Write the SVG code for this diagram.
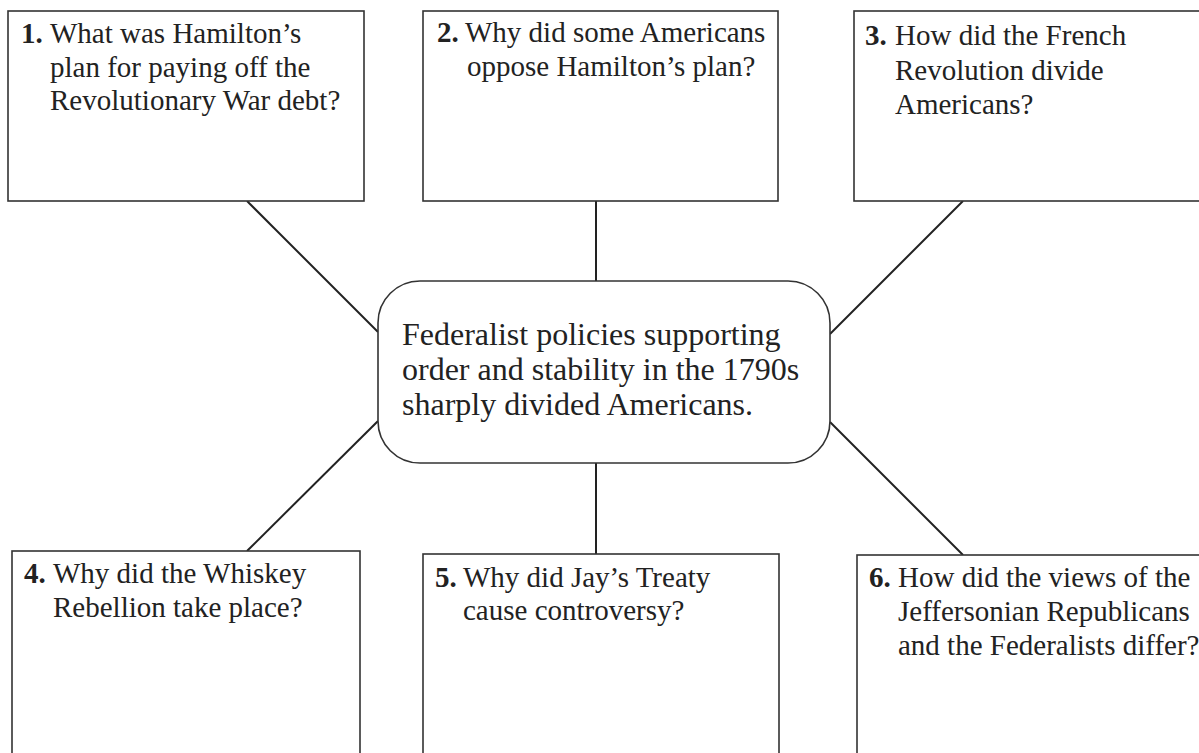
<svg xmlns="http://www.w3.org/2000/svg" width="1199" height="753" viewBox="0 0 1199 753">
<style>
.box{fill:#fff;stroke:#333;stroke-width:1.6}
.hub{fill:#fff;stroke:#333;stroke-width:1.6}
.conn line{stroke:#222;stroke-width:2}
text{font-family:"Liberation Serif","Times New Roman",serif;fill:#222}
.q{font-size:29px}
.n{font-weight:bold}
.c{font-size:32px}
</style>
<rect width="1199" height="753" fill="#fff"/>
<g id="connectors" class="conn">
<line x1="247" y1="201" x2="378" y2="332"/>
<line x1="596" y1="201" x2="596" y2="281"/>
<line x1="963" y1="201" x2="830" y2="334"/>
<line x1="378" y1="421" x2="247" y2="551"/>
<line x1="596" y1="463" x2="596" y2="554"/>
<line x1="830" y1="422" x2="963" y2="555"/>
</g>
<g id="center">
<rect class="hub" x="378" y="281" width="452" height="182" rx="42" ry="42"/>
<text class="c"><tspan x="402" y="345">Federalist policies supporting</tspan><tspan x="402" y="380">order and stability in the 1790s</tspan><tspan x="402" y="415">sharply divided Americans.</tspan></text>
</g>
<g id="q1">
<rect class="box" x="8" y="11" width="356" height="190"/>
<text class="q"><tspan class="n" x="21" y="43">1.</tspan><tspan x="50" y="43">What was Hamilton’s</tspan><tspan x="50" y="77">plan for paying off the</tspan><tspan x="50" y="110">Revolutionary War debt?</tspan></text>
</g>
<g id="q2">
<rect class="box" x="423" y="11" width="355" height="190"/>
<text class="q"><tspan class="n" x="437" y="42">2.</tspan><tspan x="465" y="42">Why did some Americans</tspan><tspan x="467" y="76">oppose Hamilton’s plan?</tspan></text>
</g>
<g id="q3">
<rect class="box" x="854" y="11" width="360" height="190"/>
<text class="q"><tspan class="n" x="865" y="45">3.</tspan><tspan x="895" y="45">How did the French</tspan><tspan x="895" y="80">Revolution divide</tspan><tspan x="895" y="114">Americans?</tspan></text>
</g>
<g id="q4">
<rect class="box" x="12" y="551" width="348" height="230"/>
<text class="q"><tspan class="n" x="24" y="583">4.</tspan><tspan x="53" y="583">Why did the Whiskey</tspan><tspan x="53" y="617">Rebellion take place?</tspan></text>
</g>
<g id="q5">
<rect class="box" x="423" y="554" width="356" height="230"/>
<text class="q"><tspan class="n" x="435" y="587">5.</tspan><tspan x="463" y="587">Why did Jay’s Treaty</tspan><tspan x="463" y="620">cause controversy?</tspan></text>
</g>
<g id="q6">
<rect class="box" x="857" y="555" width="360" height="230"/>
<text class="q"><tspan class="n" x="869" y="587">6.</tspan><tspan x="898" y="587">How did the views of the</tspan><tspan x="898" y="621">Jeffersonian Republicans</tspan><tspan x="898" y="655">and the Federalists differ?</tspan></text>
</g>
</svg>
